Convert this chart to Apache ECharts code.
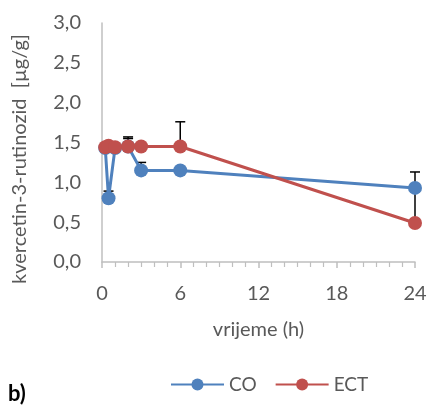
<!DOCTYPE html>
<html>
<head>
<meta charset="utf-8">
<script src="https://cdn.jsdelivr.net/npm/echarts@6/dist/echarts.min.js"></script>
<style>html,body{margin:0;padding:0;background:#fff}#c{width:430px;height:409px}</style>
</head>
<body>
<div id="c"></div>
<script>
const times = [0.25, 0.5, 1, 2, 3, 6, 24];
const coValues = [1.43, 0.80, 1.43, 1.45, 1.15, 1.15, 0.93];
const coErrors = [0.02, 0.09, 0.02, 0.10, 0.10, 0.02, 0.20];
const ectValues = [1.44, 1.46, 1.44, 1.45, 1.45, 1.45, 0.49];
const ectErrors = [0.02, 0.02, 0.02, 0.12, 0.02, 0.31, 0.44];
const xTicks = [0, 6, 12, 18, 24];
const yTicks = [0, 0.5, 1, 1.5, 2, 2.5, 3];
const seriesNames = ['CO', 'ECT'];
const xName = 'vrijeme (h)';
const yName = 'kvercetin-3-rutinozid  [µg/g]';
const panelLabel = 'b)';

const FONT = 'Lato';
const TXT = '#595959';
const AX = '#BFBFBF';
const BLUE = '#4F81BD';
const RED = '#C0504D';

function pts(vals) { return times.map((t, i) => [t, vals[i]]); }
function errPts(vals, errs) { return times.map((t, i) => [t, vals[i], errs[i]]); }

function errRender(params, api) {
  const x = api.value(0), y = api.value(1), e = api.value(2);
  const p0 = api.coord([x, y]);
  const p1 = api.coord([x, y + e]);
  return {
    type: 'group',
    children: [
      { type: 'line', shape: { x1: p0[0], y1: p0[1], x2: p1[0], y2: p1[1] }, style: { stroke: '#000', lineWidth: 1.5 } },
      { type: 'line', shape: { x1: p1[0] - 5, y1: p1[1], x2: p1[0] + 5, y2: p1[1] }, style: { stroke: '#000', lineWidth: 1.5 } }
    ]
  };
}

const chart = echarts.init(document.getElementById('c'), null, { renderer: 'canvas' });
chart.setOption({
  animation: false,
  backgroundColor: '#fff',
  grid: { left: 102, right: 15, top: 23, bottom: 147, containLabel: false },
  xAxis: {
    type: 'value', min: xTicks[0], max: xTicks[xTicks.length - 1], interval: 6,
    name: xName, nameLocation: 'middle', nameGap: 58,
    nameTextStyle: { color: TXT, fontFamily: FONT, fontSize: 20 },
    axisLine: { lineStyle: { color: AX, width: 1.5 } },
    axisTick: { show: true, length: 6, lineStyle: { color: AX, width: 1.5 } },
    minorTick: { show: true, splitNumber: 6, length: 5, lineStyle: { color: AX, width: 1.2 } },
    splitLine: { show: false },
    axisLabel: { color: TXT, fontFamily: FONT, fontSize: 20, margin: 22 }
  },
  yAxis: {
    type: 'value', min: yTicks[0], max: yTicks[yTicks.length - 1], interval: 0.5,
    axisLine: { show: true, lineStyle: { color: AX, width: 1.5 } },
    axisTick: { show: false },
    splitLine: { show: false },
    axisLabel: { color: TXT, fontFamily: FONT, fontSize: 20, margin: 21,
      formatter: v => v.toFixed(1).replace('.', ',') }
  },
  legend: {
    left: 170, top: 375, padding: 0, itemWidth: 53, itemHeight: 15, itemGap: 18,
    textStyle: { color: TXT, fontFamily: FONT, fontSize: 19, padding: [0, 0, 0, 0] },
    data: seriesNames
  },
  graphic: [
    { type: 'text', x: 20, y: 159, rotation: Math.PI / 2,
      style: { text: yName, fill: TXT, font: '20px ' + FONT, textAlign: 'center', textVerticalAlign: 'middle' } },
    { type: 'text', left: 8, top: 383,
      style: { text: panelLabel, fill: '#000', font: 'bold 22px ' + FONT } }
  ],
  series: [
    { type: 'custom', name: 'CO err', renderItem: errRender, data: errPts(coValues, coErrors), z: 1, silent: true, encode: { x: 0, y: 1 } },
    { type: 'custom', name: 'ECT err', renderItem: errRender, data: errPts(ectValues, ectErrors), z: 1, silent: true, encode: { x: 0, y: 1 } },
    { type: 'line', name: seriesNames[0], data: pts(coValues), z: 3, symbol: 'circle', symbolSize: 14,
      lineStyle: { color: BLUE, width: 3 }, itemStyle: { color: BLUE, borderWidth: 0 } },
    { type: 'line', name: seriesNames[1], data: pts(ectValues), z: 4, symbol: 'circle', symbolSize: 14,
      lineStyle: { color: RED, width: 3 }, itemStyle: { color: RED, borderWidth: 0 } }
  ]
});
</script>
</body>
</html>
